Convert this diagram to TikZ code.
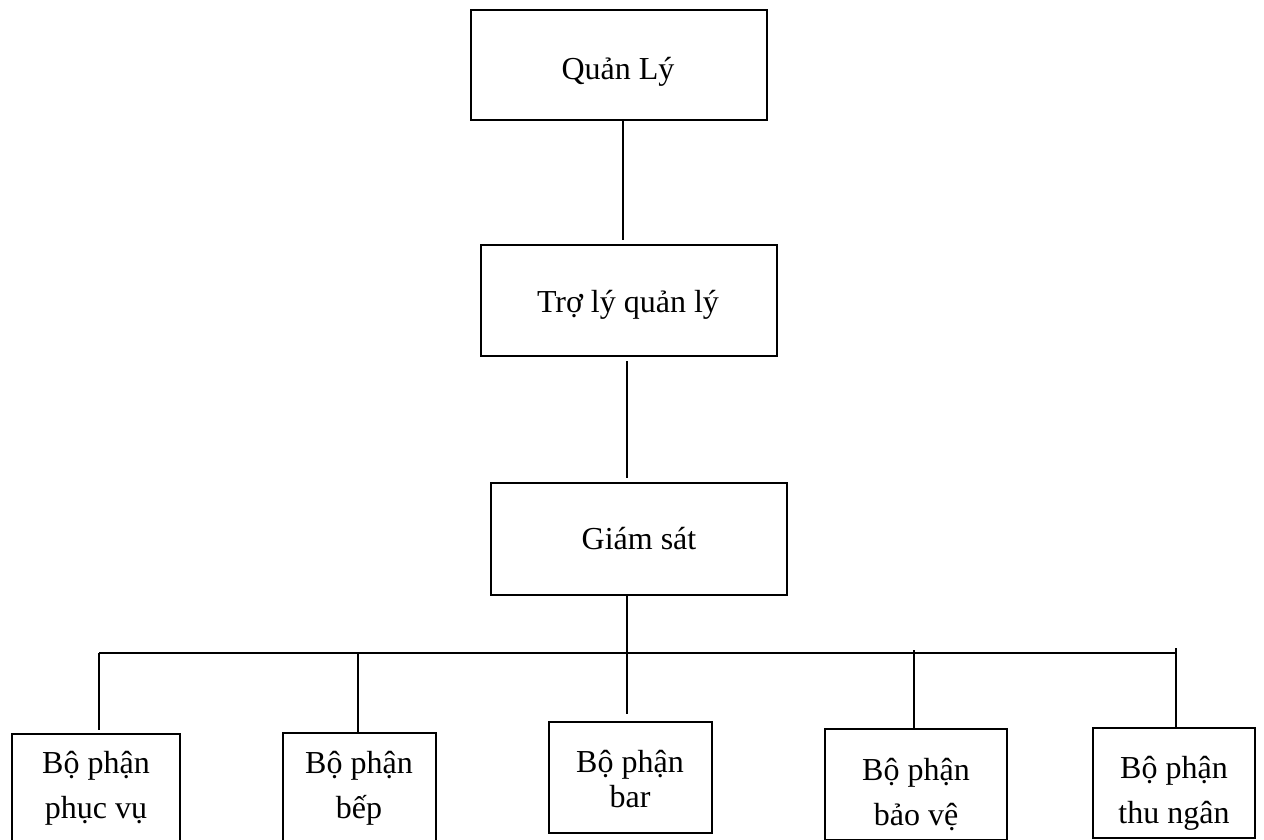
\documentclass[tikz,border=0pt]{standalone}
\usepackage{fontspec}
\setmainfont{Liberation Serif}
\begin{document}
\begin{tikzpicture}[x=1pt,y=-1pt,
  box/.style={draw=black,line width=2.8pt,rectangle,inner sep=0pt,fill=white},
  lbl/.style={anchor=base,inner sep=0pt,font=\fontsize{32}{36}\selectfont},
  conn/.style={draw=black,line width=1.8pt}]
\useasboundingbox (0,0) rectangle (1264,840);
\clip (0,0) rectangle (1264,840);
\fill[white] (0,0) rectangle (1264,840);
% top boxes
\node[box,minimum width=296pt,minimum height=110pt] (q) at (619,65) {};
\node[box,minimum width=296pt,minimum height=111pt] (t) at (629,300.5) {};
\node[box,minimum width=296pt,minimum height=112pt] (g) at (639,539) {};
\node[lbl] (qt) at (618,80) {Quản Lý};
\node[lbl] (tt) at (628,312) {Trợ lý quản lý};
\node[lbl] (gt) at (639,549) {Giám sát};
% bottom boxes
\node[box,minimum width=168pt,minimum height=112pt] (b1) at (96,790) {};
\node[box,minimum width=153pt,minimum height=112pt] (b2) at (359.5,789) {};
\node[box,minimum width=163pt,minimum height=111pt] (b3) at (630.5,777.5) {};
\node[box,minimum width=182pt,minimum height=111pt] (b4) at (916,784.5) {};
\node[box,minimum width=162pt,minimum height=110pt] (b5) at (1174,783) {};
\node[lbl] (b1a) at (96,773) {Bộ phận};
\node[lbl] (b1b) at (96,818) {phục vụ};
\node[lbl] (b2a) at (359,773) {Bộ phận};
\node[lbl] (b2b) at (359,818) {bếp};
\node[lbl] (b3a) at (630,772) {Bộ phận};
\node[lbl] (b3b) at (630,807) {bar};
\node[lbl] (b4a) at (916,780) {Bộ phận};
\node[lbl] (b4b) at (916,825) {bảo vệ};
\node[lbl] (b5a) at (1174,778) {Bộ phận};
\node[lbl] (b5b) at (1174,823) {thu ngân};
% bus
\coordinate (busL) at (99,653);
\coordinate (busR) at (1176,653);
\coordinate (busM) at (627,653);
% connectors
\draw[conn,shorten >=4pt] ([xshift=4pt]q.south) -- ([xshift=-6pt]t.north);
\draw[conn,shorten >=4pt,shorten <=4pt] ([xshift=-2pt]t.south) -- ([xshift=-12pt]g.north);
\draw[conn] ([xshift=-12pt]g.south) -- (busM);
\draw[conn] (busL) -- (busR);
\draw[conn,shorten >=3pt] (busL) -- (busL |- b1.north);
\draw[conn] (358,653) -- (358,733);
\draw[conn,shorten >=7pt] (busM) -- (busM |- b3.north);
\draw[conn] (914,650) -- (914 ,729);
\draw[conn] (1176,648) -- (busR |- b5.north);
\end{tikzpicture}
\end{document}
